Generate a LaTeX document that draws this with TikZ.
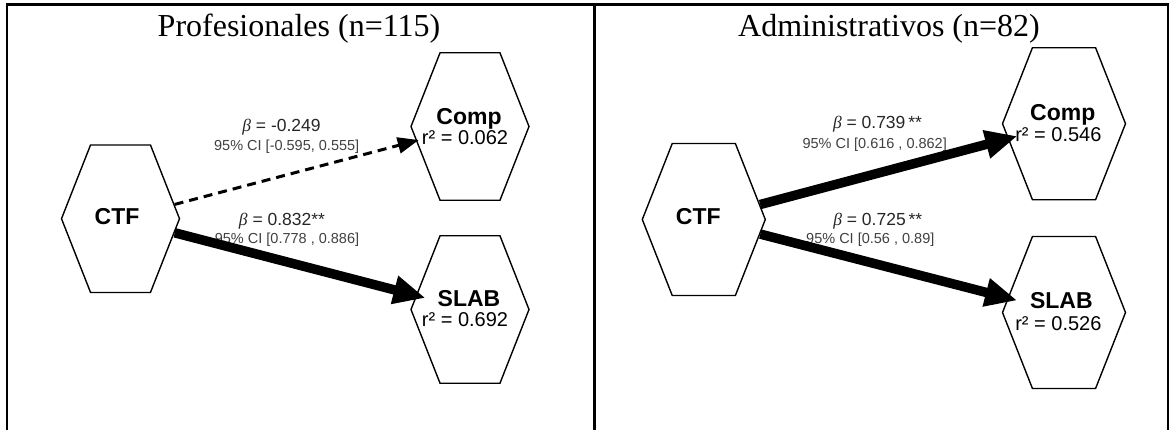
\documentclass[tikz,border=0pt]{standalone}
\usepackage{fontspec}
\setmainfont{Liberation Serif}
\setsansfont{Liberation Sans}
\newfontfamily\betafont{Liberation Serif}
\usetikzlibrary{shapes.symbols,arrows.meta}
\newcommand{\bt}{{\betafont\itshape β}}
\tikzset{
  hexa/.style={shape=signal, signal to=east and west, signal pointer angle=137, draw, line width=1.4pt, inner sep=0pt, fill=white},
  hexL/.style={hexa, minimum width=118pt, minimum height=147.5pt},
  hexR/.style={hexa, minimum width=123pt, minimum height=152pt},
  nm/.style={anchor=base, inner sep=0pt, font=\sffamily\bfseries\fontsize{23}{23}\selectfont},
  rsq/.style={anchor=base, inner sep=0pt, font=\sffamily\fontsize{20}{20}\selectfont},
  ttl/.style={anchor=base, inner sep=0pt, font=\rmfamily\fontsize{32}{32}\selectfont},
  bl/.style={anchor=base, inner sep=0pt, text=black!85, font=\sffamily\fontsize{17.5}{17.5}\selectfont},
  ci/.style={anchor=base, inner sep=0pt, text=black!75, font=\sffamily\fontsize{14.5}{14.5}\selectfont},
  thickarrow/.style={line width=9.5pt, -{Triangle[length=32pt,width=27pt]}, shorten >=-10pt},
  dasharrow/.style={line width=3pt, dash pattern=on 9pt off 6pt, -{Triangle[length=21pt,width=16pt]}, shorten >=-3pt},
  frame/.style={line width=2.5pt, line cap=rect}
}
\begin{document}
\begin{tikzpicture}[x=1pt,y=-1pt]
\useasboundingbox (0,0) rectangle (1174,429);
\draw[frame] (7.2,429) -- (7.2,4.7) -- (1168,4.7) -- (1168,429);
\draw[frame] (594.7,4.7) -- (594.7,429);
% left panel
\node[ttl] (tL) at (299,36) {Profesionales (n=115)};
\node[hexL] (ctfL) at (120.5,218.7) {};
\node[hexL] (compL) at (470,126.5) {};
\node[hexL] (slabL) at (470,309.5) {};
\node[nm] (ctfLt) at (117,224.3) {CTF};
\node[nm] (compLt) at (469,124) {Comp};
\node[rsq] (compLr) at (465,144) {r² = 0.062};
\node[nm] (slabLt) at (469,306.7) {SLAB};
\node[rsq] (slabLr) at (465,326.7) {r² = 0.692};
\node[bl] (b1L) at (281.5,131.7) {\bt{} = -0.249};
\node[ci] (c1L) at (286.7,150) {95\% CI [-0.595, 0.555]};
\node[bl] (b2L) at (282,225) {\bt{} = 0.832**};
\node[ci] (c2L) at (287,243) {95\% CI [0.778 , 0.886]};
\draw[dasharrow] (ctfL) -- (compL);
\draw[thickarrow] (ctfL) -- (slabL);
% right panel
\node[ttl] (tR) at (889,36) {Administrativos (n=82)};
\node[hexR] (ctfR) at (703.8,219.5) {};
\node[hexR] (compR) at (1064,123.7) {};
\node[hexR] (slabR) at (1064,312.5) {};
\node[nm] (ctfRt) at (698.3,224.3) {CTF};
\node[nm] (compRt) at (1062.8,120.7) {Comp};
\node[rsq] (compRr) at (1058.4,141.7) {r² = 0.546};
\node[nm] (slabRt) at (1061.3,308.3) {SLAB};
\node[rsq] (slabRr) at (1058.4,330) {r² = 0.526};
\node[bl] (b1R) at (877.5,128.3) {\bt{} = 0.739\,**};
\node[ci] (c1R) at (874.7,148.3) {95\% CI [0.616 , 0.862]};
\node[bl] (b2R) at (877.8,225) {\bt{} = 0.725\,**};
\node[ci] (c2R) at (870.3,243.3) {95\% CI [0.56 , 0.89]};
\draw[thickarrow] (ctfR) -- (compR);
\draw[thickarrow] (ctfR) -- (slabR);
\end{tikzpicture}
\end{document}
